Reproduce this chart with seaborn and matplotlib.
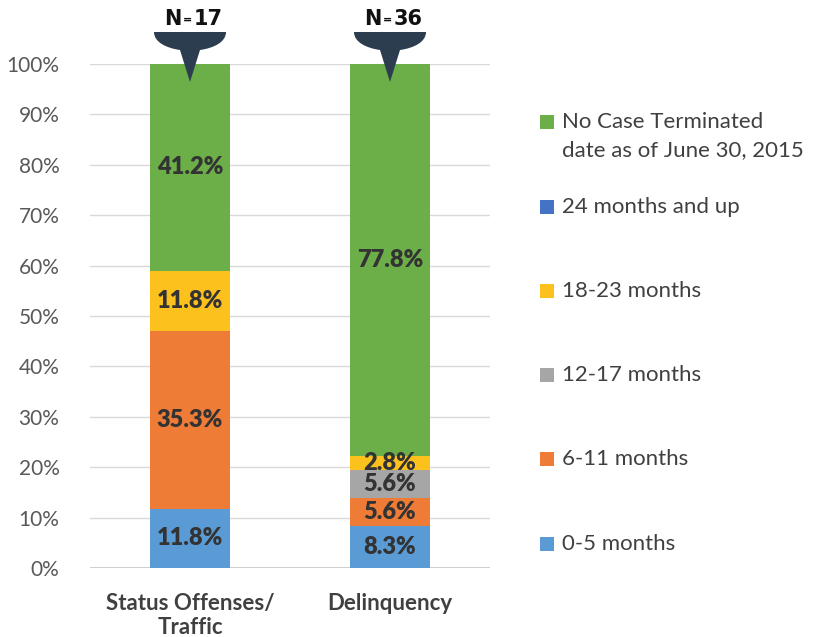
import numpy as np
import pandas as pd
import matplotlib
matplotlib.use("Agg")
import matplotlib.pyplot as plt
import matplotlib.transforms as mtransforms
from matplotlib.path import Path
from matplotlib.patches import PathPatch, Rectangle
import seaborn as sns

# data
groups = ["Status Offenses/\nTraffic", "Delinquency"]
group_n = [17, 36]
periods = ["0-5 months", "6-11 months", "12-17 months", "18-23 months",
           "24 months and up", "No Case Terminated\ndate as of June 30, 2015"]
status_pct = [11.8, 35.3, 0.0, 11.8, 0.0, 41.2]
delinquency_pct = [8.3, 5.6, 5.6, 2.8, 0.0, 77.8]
colors = ["#5B9BD5", "#EE7B36", "#A6A6A6", "#FDC11E", "#4472C4", "#6CAF49"]

W, H = 814, 637

sns.set_style("white")
plt.rcParams["font.family"] = ["Lato", "DejaVu Sans"]

fig = plt.figure(figsize=(W / 100, H / 100), dpi=100)
ax = fig.add_axes([90 / W, 1 - 568 / H, 400 / W, 504 / H])

# long table with cumulative tops, drawn back to front so shorter stacks overlay
df = pd.DataFrame({
    "group": np.repeat(groups, len(periods)),
    "period": periods * len(groups),
    "pct": status_pct + delinquency_pct,
})
df["top"] = df.groupby("group", sort=False)["pct"].cumsum()
df["mid"] = df["top"] - df["pct"] / 2

for period, col in reversed(list(zip(periods, colors))):
    sub = df[df["period"] == period]
    sns.barplot(data=sub, x="group", y="top", order=groups, color=col,
                width=0.4, saturation=1, ax=ax, zorder=2, linewidth=0)

# percentage labels inside segments
for _, row in df.iterrows():
    if row["pct"] > 0:
        ax.text(groups.index(row["group"]), row["mid"], f"{row['pct']:.1f}%",
                ha="center", va="center", fontsize=17, fontweight="heavy",
                color="#333333", zorder=5)

ax.set_ylim(0, 100)
ax.set_xlim(-0.5, 1.5)
ax.set_yticks(np.arange(0, 101, 10))
ax.set_yticklabels([f"{v}%" for v in range(0, 101, 10)])
ax.grid(axis="y", color="#D9D9D9", linewidth=1, zorder=0)
ax.set_axisbelow(True)
for s in ax.spines.values():
    s.set_visible(False)
ax.axhline(0, color="#C8C8C8", linewidth=1.2, zorder=1)
ax.tick_params(axis="y", length=0, pad=22, labelsize=15, labelcolor="#595959")
ax.tick_params(axis="x", length=0, pad=18, labelsize=16, labelcolor="#404040")
for lab in ax.get_xticklabels():
    lab.set_fontweight("bold")
ax.set_xlabel("")
ax.set_ylabel("")

# "N =" badges above each bar (pixel offsets from bar top)
verts = [(-36, 0), (36, 0), (36, 10), (24, 16), (10, 18), (0, 50),
         (-10, 18), (-24, 16), (-36, 10), (-36, 0), (-36, 0)]
codes = [Path.MOVETO, Path.LINETO, Path.CURVE4, Path.CURVE4, Path.CURVE4,
         Path.LINETO, Path.LINETO, Path.CURVE4, Path.CURVE4, Path.CURVE4,
         Path.CLOSEPOLY]
badge = Path(verts, codes)
for i, n in enumerate(group_n):
    tr = (mtransforms.Affine2D().scale(1, -1).translate(0, 32)
          + mtransforms.ScaledTranslation(i, 100, ax.transData))
    ax.add_patch(PathPatch(badge, transform=tr, facecolor="#2B3D4E",
                           edgecolor="none", clip_on=False, zorder=6))
    kw = dict(xy=(i, 100), textcoords="offset pixels", va="center",
              color="#111111", fontweight="heavy", family="DejaVu Sans",
              annotation_clip=False)
    ax.annotate("N", xytext=(-8, 45), ha="right", fontsize=15, **kw)
    ax.annotate("=", xytext=(-2, 44), ha="center", fontsize=8, **kw)
    ax.annotate(str(n), xytext=(4, 45), ha="left", fontsize=15, **kw)

# legend on the right, top entry is the last period
legend_y = [544, 459, 375, 291, 207, 122]
for period, col, y in zip(periods, colors, legend_y):
    fig.add_artist(Rectangle(((540) / W, 1 - (y + 7) / H), 14 / W, 14 / H,
                             transform=fig.transFigure, facecolor=col,
                             edgecolor="none"))
    for k, line in enumerate(period.split("\n")):
        fig.text(562 / W, 1 - (y + 28 * k) / H, line, ha="left", va="center",
                 fontsize=16, color="#404040")

fig.savefig("out.png", dpi=100)
